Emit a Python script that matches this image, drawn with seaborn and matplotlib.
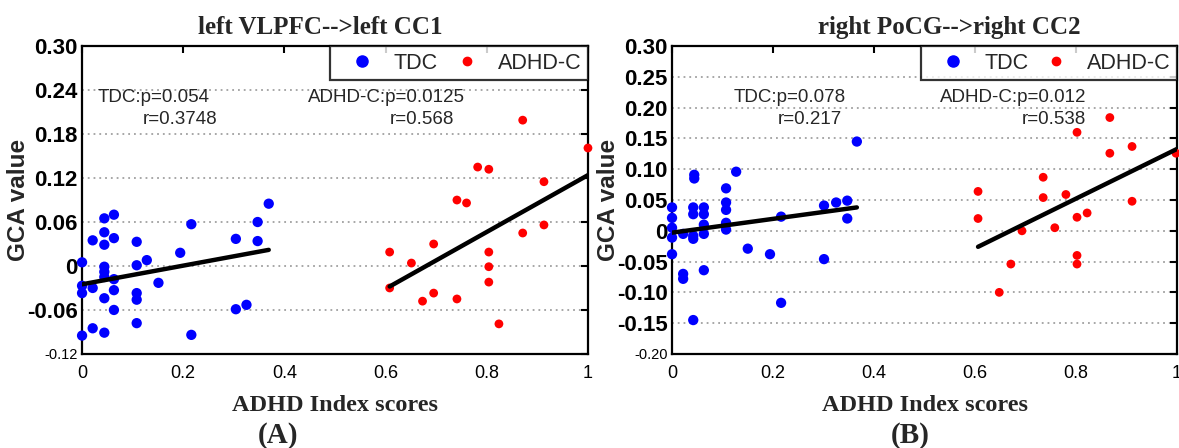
import numpy as np
import pandas as pd
import seaborn as sns
import matplotlib.pyplot as plt
from matplotlib.lines import Line2D

# panel A: left VLPFC-->left CC1
tdc_x_a = [0, 0, 0, 0, 0.021, 0.021, 0.021,
           0.044, 0.044, 0.044, 0.044, 0.044, 0.044, 0.044, 0.044,
           0.063, 0.063, 0.063, 0.063, 0.063,
           0.108, 0.108, 0.108, 0.108, 0.108,
           0.128, 0.151, 0.194, 0.216, 0.216, 0.304, 0.304, 0.325, 0.347, 0.347, 0.369]
tdc_y_a = [0.005, -0.027, -0.037, -0.095, 0.035, -0.030, -0.085,
           0.065, 0.046, 0.029, -0.001, -0.008, -0.015, -0.044, -0.091,
           0.070, 0.038, -0.018, -0.033, -0.060,
           0.033, 0.001, -0.037, -0.046, -0.078,
           0.008, -0.023, 0.018, 0.057, -0.094, 0.037, -0.059, -0.053, 0.060, 0.034, 0.085]
adhd_x_a = [0.871, 0.782, 0.804, 0.913, 1.0, 0.741, 0.760, 0.871, 0.913, 0.608,
            0.695, 0.651, 0.804, 0.804, 0.804, 0.608, 0.695, 0.673, 0.741, 0.824]
adhd_y_a = [0.199, 0.135, 0.132, 0.115, 0.161, 0.090, 0.086, 0.045, 0.056, 0.019,
            0.030, 0.004, 0.019, -0.001, -0.022, -0.030, -0.037, -0.048, -0.045, -0.079]
fit_tdc_x_a = [0, 0.369]
fit_tdc_y_a = [-0.025, 0.022]
fit_adhd_x_a = [0.608, 1.0]
fit_adhd_y_a = [-0.028, 0.124]

# panel B: right PoCG-->right CC2
tdc_x_b = [0.366, 0.044, 0.044, 0.127, 0.107, 0.107, 0.107, 0.107, 0.107,
           0, 0, 0, 0, 0, 0.022, 0.022, 0.022,
           0.042, 0.042, 0.042, 0.042, 0.042,
           0.063, 0.063, 0.063, 0.063, 0.063,
           0.150, 0.194, 0.216, 0.216, 0.301, 0.301, 0.325, 0.347, 0.347]
tdc_y_b = [0.145, 0.091, 0.085, 0.096, 0.069, 0.046, 0.034, 0.013, 0.002,
           0.038, 0.021, 0.005, -0.011, -0.038, -0.005, -0.070, -0.078,
           0.038, 0.027, -0.008, -0.013, -0.145,
           0.038, 0.027, 0.010, -0.005, -0.064,
           -0.029, -0.038, 0.023, -0.117, 0.041, -0.046, 0.046, 0.049, 0.020]
adhd_x_b = [0.867, 0.802, 0.911, 0.867, 0.998, 0.735, 0.606, 0.735, 0.780, 0.911,
            0.606, 0.802, 0.822, 0.758, 0.693, 0.802, 0.802, 0.671, 0.648]
adhd_y_b = [0.184, 0.160, 0.137, 0.126, 0.126, 0.087, 0.064, 0.054, 0.059, 0.048,
            0.020, 0.022, 0.029, 0.005, 0.000, -0.040, -0.054, -0.054, -0.100]
fit_tdc_x_b = [0, 0.366]
fit_tdc_y_b = [-0.003, 0.038]
fit_adhd_x_b = [0.606, 1.0]
fit_adhd_y_b = [-0.026, 0.133]

titles = ["left VLPFC-->left CC1", "right PoCG-->right CC2"]
title_x = [0.47, 0.55]
yticks_a = [0.30, 0.24, 0.18, 0.12, 0.06, 0, -0.06, -0.12]
ytick_labels_a = ["0.30", "0.24", "0.18", "0.12", "0.06", "0", "-0.06", "-0.12"]
yticks_b = [0.30, 0.25, 0.20, 0.15, 0.10, 0.05, 0, -0.05, -0.10, -0.15, -0.20]
ytick_labels_b = ["0.30", "0.25", "0.20", "0.15", "0.10", "0.05", "0", "-0.05", "-0.10", "-0.15", "-0.20"]
xticks = [0, 0.2, 0.4, 0.6, 0.8, 1]
xtick_labels = ["0", "0.2", "0.4", "0.6", "0.8", "1"]
stats_a = [("TDC:p=0.054", "r=0.3748"), ("ADHD-C:p=0.0125", "r=0.568")]
stats_b = [("TDC:p=0.078", "r=0.217"), ("ADHD-C:p=0.012", "r=0.538")]
panel_labels = ["(A)", "(B)"]

SANS = "Liberation Sans"
SERIF = "Liberation Serif"

sns.set_style("white")
plt.rcParams["font.family"] = [SANS, "DejaVu Sans"]

fig = plt.figure(figsize=(11.79, 4.48), dpi=100)
ax_a = fig.add_axes([0.0696, 0.210, 0.4291, 0.687])
ax_b = fig.add_axes([0.570, 0.210, 0.4283, 0.687])


def draw_panel(ax, tx, ty, ax_, ay, ftx, fty, fax, fay, yticks, ylabels, ylim,
               title, tx_pos, stats, stat_pos, panel_label, label_x, leg_x):
    tdc = pd.DataFrame({"x": tx, "y": ty})
    adhd = pd.DataFrame({"x": ax_, "y": ay})
    for yv in yticks[1:-1]:
        ax.axhline(yv, color="#a0a0a0", linestyle=(0, (1, 2.2)), linewidth=1.3, zorder=0)
    sns.scatterplot(data=tdc, x="x", y="y", ax=ax, color="#0000ff", s=55,
                    edgecolor="none", clip_on=False, zorder=3)
    sns.scatterplot(data=adhd, x="x", y="y", ax=ax, color="#ff0000", s=40,
                    edgecolor="none", clip_on=False, zorder=3)
    sns.lineplot(x=ftx, y=fty, ax=ax, color="black", linewidth=3.2, zorder=4)
    sns.lineplot(x=fax, y=fay, ax=ax, color="black", linewidth=3.2, zorder=4)

    ax.set_xlim(0, 1)
    ax.set_ylim(*ylim)
    ax.set_xticks(xticks)
    ax.set_xticklabels(xtick_labels, fontsize=13)
    ax.set_yticks(yticks)
    ax.set_yticklabels(ylabels, fontsize=16, fontweight="bold")
    ax.get_yticklabels()[-1].set_fontsize(10.5)
    ax.get_yticklabels()[-1].set_fontweight("normal")
    ax.tick_params(direction="in", length=5, width=1.5, top=True, right=True,
                   colors="black", pad=3)
    ax.tick_params(axis="x", pad=8)
    for sp in ax.spines.values():
        sp.set_visible(True)
        sp.set_color("black")
        sp.set_linewidth(1.6)

    ax.set_xlabel("ADHD Index scores", fontsize=17.5, family=SERIF,
                  fontweight="bold", labelpad=9)
    ax.set_ylabel("GCA value", fontsize=17.5, fontweight="bold")
    ax.yaxis.set_label_coords(-0.103, 0.5)
    ax.set_title(title, fontsize=18, family=SERIF, fontweight="bold", x=tx_pos, pad=9)

    for (line1, line2), (x1, x2) in zip(stats, stat_pos):
        ax.text(x1, 0.834, line1, transform=ax.transAxes, fontsize=13.5,
                va="center", ha="left")
        ax.text(x2, 0.763, line2, transform=ax.transAxes, fontsize=13.5,
                va="center", ha="left")

    handles = [Line2D([], [], linestyle="none", marker="o", color="#0000ff", markersize=8),
               Line2D([], [], linestyle="none", marker="o", color="#ff0000", markersize=6)]
    leg = ax.legend(handles, ["TDC", "ADHD-C"], loc="upper left",
                    bbox_to_anchor=(leg_x, 0, 1 - leg_x, 1), mode="expand",
                    ncol=2, frameon=True, fancybox=False, fontsize=15.5, borderaxespad=0,
                    handlelength=2.4, handletextpad=0.25, columnspacing=0.5,
                    borderpad=0.3)
    leg.get_frame().set_edgecolor("black")
    leg.get_frame().set_linewidth(1.6)

    fig.text(label_x, 0.029, panel_label, fontsize=21, family=SERIF,
             fontweight="bold", ha="center", va="center")


draw_panel(ax_a, tdc_x_a, tdc_y_a, adhd_x_a, adhd_y_a,
           fit_tdc_x_a, fit_tdc_y_a, fit_adhd_x_a, fit_adhd_y_a,
           yticks_a, ytick_labels_a, (-0.12, 0.30), titles[0], title_x[0],
           stats_a, [(0.030, 0.119), (0.447, 0.609)], panel_labels[0], 0.236, 0.49)
draw_panel(ax_b, tdc_x_b, tdc_y_b, adhd_x_b, adhd_y_b,
           fit_tdc_x_b, fit_tdc_y_b, fit_adhd_x_b, fit_adhd_y_b,
           yticks_b, ytick_labels_b, (-0.20, 0.30), titles[1], title_x[1],
           stats_b, [(0.121, 0.210), (0.531, 0.693)], panel_labels[1], 0.772, 0.493)

fig.savefig("out.png", dpi=100)
plt.close(fig)
